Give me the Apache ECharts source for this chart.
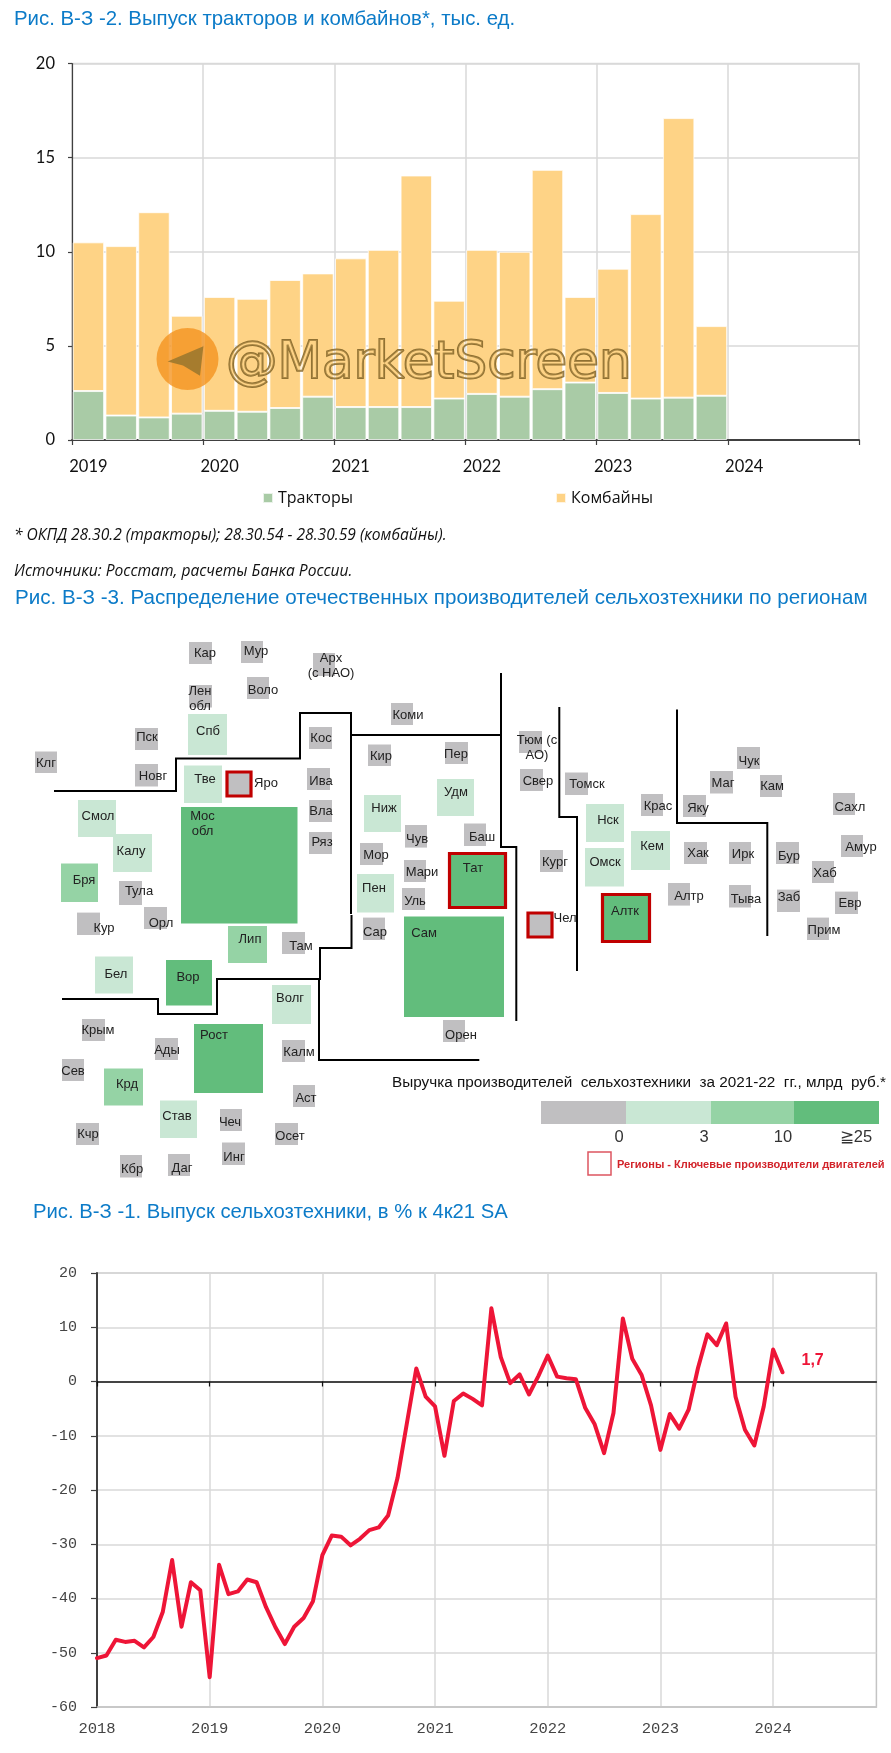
<!DOCTYPE html>
<html><head><meta charset="utf-8">
<style>html,body{margin:0;padding:0;background:#fff}#c{width:891px;height:1753px}</style>
<script src="https://cdn.jsdelivr.net/npm/echarts@6/dist/echarts.min.js"></script>
</head><body><div id="c"></div>
<script>
// ---- Chart 1: quarterly output, thousand units
const quarterLabels = ['2019','','','','2020','','','','2021','','','','2022','','','','2023','','','','2024','','',''];
const tractors = [2.6,1.3,1.2,1.4, 1.55,1.5,1.7,2.3, 1.75,1.75,1.75,2.2, 2.45,2.3,2.7,3.05, 2.5,2.2,2.25,2.35];
const combines = [7.9,9.0,10.9,5.2, 6.05,6.0,6.8,6.55, 7.9,8.35,12.3,5.2, 7.65,7.7,11.65,4.55, 6.6,9.8,14.85,3.7];

// ---- Chart 3: monthly output, % of 4Q21 SA
const monthYears = ['2018','2019','2020','2021','2022','2023','2024'];
const outputIndex = [
 -51.0,-50.5,-47.6,-48.0,-47.8,-49.0,-47.1,-42.5,-32.9,-45.2,-37.0,-38.5,
 -54.5,-33.8,-39.2,-38.7,-36.5,-37.0,-41.6,-45.3,-48.4,-45.2,-43.6,-40.5,
 -32.0,-28.4,-28.6,-30.2,-29.0,-27.4,-26.9,-24.7,-17.8,-7.7,2.4,-2.8,
 -4.6,-13.7,-3.6,-2.2,-3.2,-4.4,13.5,4.5,-0.3,1.3,-2.4,1.0,
 4.8,0.9,0.6,0.4,-4.9,-7.9,-13.2,-5.8,11.6,4.2,1.2,-4.4,
 -12.6,-6.0,-8.7,-5.2,2.5,8.7,6.7,10.7,-2.8,-8.9,-11.8,-4.6,
 5.9,1.7];

// ---- Map: regions and revenue tier (0 none, 1 <3..., 2, 3 >=25)
const regionNames = ['Кар','Мур','Арх\n(с НАО)','Воло','Лен\nобл','Пск','Кос','Коми','Кир','Клг','Новг','Ива','Вла','Ряз','Чув','Мор','Мари','Уль','Сар','Тула','Кур','Орл','Там','Крым','Ады','Калм','Сев','Аст','Чеч','Осет','Кчр','Инг','Кбр','Даг','Орен','Пер','Баш','Тюм (с\nАО)','Свер','Томск','Крас','Яку','Маг','Чук','Кам','Сахл','Амур','Хаб','Евр','Прим','Бур','Заб','Хак','Ирк','Алтр','Тыва','Кург','Яро','Чел','Спб','Тве','Смол','Калу','Ниж','Пен','Бел','Волг','Став','Удм','Нск','Омск','Кем','Бря','Лип','Крд','Мос\nобл','Вор','Рост','Сам','Тат','Алтк'];
const regionTiers = [0,0,0,0,0,0,0,0,0,0,0,0,0,0,0,0,0,0,0,0,0,0,0,0,0,0,0,0,0,0,0,0,0,0,0,0,0,0,0,0,0,0,0,0,0,0,0,0,0,0,0,0,0,0,0,0,0,0,0,1,1,1,1,1,1,1,1,1,1,1,1,1,2,2,2,3,3,3,3,3,3];
const keyEngineRegions = ['Яро','Чел','Тат','Алтк'];
// page layout of the tile map: x0,y0,x1,y1, text centre x,y
const tileLayout = [
[189,642,212,664,205,653],[241,641,263,663,256,651.5],[313,653,335,676,331,666],[247,677,269,699,263,690],[189,685,212,707.5,200,698.5],[135,728,158,750,147,737.5],[309,727,332,749,321,738],[391,703,413,725,408,715],[368,744.5,391,766,381,756.5],[35,751.5,57,773,46,763],[135,764,158,786.5,153,776],[307,768,330,790,321,781.5],[309,800,332,822,321,811],[309,832,332,854,322,842.5],[405,825,427,847.6,417,839],[360,843,383,865,376,855],[404,860,426,882,422,872.5],[402,888,425,910,415,901],[363,917.6,385,940,375,932],[119,881,142,905,139,891.5],[77,912.6,100,935,104,928.5],[144,907,167,929,161,923],[282,932,305,954,301,946],[82,1019,105,1041,98,1030],[155,1038,178,1060,167,1050],[282,1040,305,1062,299,1052],[62,1059,84,1081,73,1071],[293,1085,315,1107,306,1098.6],[220,1109,242,1131,230,1122],[275,1123,298,1145,290,1136],[76,1123,99,1145,88,1134],[222,1142.5,245,1165,234,1157],[120,1155,142,1177.5,132,1169],[168,1154,190,1176,182,1168],[443,1020,465,1042,461,1035.5],[445,742,468,764,456,754.6],[464,823.5,486,846,482,837.5],[519,731,542,753,537,747.5],[520,769,543,791,538,781],[565,772.5,588,795,587,784.6],[641,794,663,816,658,806],[683,795,706,817,698,808],[710,771,733,793.5,723,783],[737,747,760,769,749,761],[760,775,782,797,772,786.5],[833,793,855,815,850,807],[841,835,863,857,861,847],[812,861,834,883,825,873],[835,891.6,858,914,850,903.6],[807,917.6,829,940,824,930],[776,842,799,864,789,856.5],[777,889.6,800,912,789,897],[684,842,707,864,698,853.4],[729,842,751,864,743,854],[668,883,690,905.6,689,896],[729,885,751,907.5,746,899],[540,850,563,872,555,862],[227,772,251,796,266,783.4],[528,913,552,937,565,918.4],
[188,714,227,755,208,731],[184,765.5,222,803,205,779.5],[78,800,116,837,98,816.5],[113,834,152,872,131,851],[364,795,401,832,384,808],[357,874,394,912.6,374,888.5],[95,956.5,133,993.5,116,974.4],[272,985,311,1024,290,998.6],[160,1100.5,197,1138,177,1116.5],[437,779,474,816,456,792],[586,804,624,842,608,820],[585,848,624,886.5,605,862],[631,831,670,870,652,846.4],[61,863.5,98,902,84,880],[228,926,267,963,250,939.4],[104,1068.6,143,1105.6,127,1084.6],[181,807,297.5,923.5,202.5,824],[166,960,212,1005.5,188,977.5],[194,1024,263,1093,214,1035.5],[404,916.5,504,1017,424,933.6],[449.5,853.5,505.5,907.5,473,868],[602.5,894.5,649.5,941.5,625,911.4]
];
const borderLines = [
 [[54,791],[176,791],[176,758.5],[300,758.5],[300,713],[351,713],[351,914]],
 [[351.5,915],[351.5,948],[320,948],[320,979],[217,979],[217,1014],[158,1014],[158,999],[62,999]],
 [[319,979],[319,1060],[479.3,1060]],
 [[351,735],[501,735]],
 [[501,673],[501,847],[516.3,847],[516.3,1021]],
 [[559.3,707],[559.3,817],[577,817],[577,971]],
 [[677,709.5],[677,823],[767.3,823],[767.3,936]]
];
const tierColors = ['#C0BFC1','#C9E7D4','#95D3A5','#62BD7C'];
const revenueLegendTicks = ['0','3','10','≧25'];

const months = [];
monthYears.forEach(y => { for (let m = 0; m < 12; m++) months.push(m === 0 ? y : y + '-' + (m + 1)); });
const mapData = regionNames.map((n, i) => [...tileLayout[i], regionTiers[i], n]);

const blue = '#0C7BC8';
const sansTitle = (text, left, top, size) => ({text, left, top, padding: 0,
  textStyle: {color: blue, fontFamily: '"Liberation Sans", Arial', fontSize: size, fontWeight: 'normal'}});
const gridLine = {show: true, lineStyle: {color: '#D9D9D9', width: 1.5}};

const barFont = {fontFamily: 'Lato', fontSize: 16.5, color: '#111'};
const monoFont = {fontFamily: '"Liberation Mono"', fontSize: 15.5, color: '#444'};
const legendFont = {fontFamily: '"Open Sans"', fontSize: 16, color: '#111'};

const option = {
  animation: false,
  backgroundColor: '#fff',
  title: [
    sansTitle('Рис. В-З -2. Выпуск тракторов и комбайнов*, тыс. ед.', 14, 9, 20.4),
    sansTitle('Рис. В-З -3. Распределение отечественных производителей сельхозтехники по регионам', 15, 588, 20.6),
    sansTitle('Рис. В-З -1. Выпуск сельхозтехники, в % к 4к21 SA', 33, 1202, 20.3)
  ],
  legend: [
    {data: ['Тракторы'], left: 262, top: 490, itemWidth: 10, itemHeight: 10, icon: 'rect', textStyle: legendFont, itemGap: 0, padding: 0},
    {data: ['Комбайны'], left: 555, top: 490, itemWidth: 10, itemHeight: 10, icon: 'rect', textStyle: legendFont, itemGap: 0, padding: 0}
  ],
  grid: [
    {left: 72, top: 63.5, width: 787, height: 376.5, show: true, borderColor: '#D9D9D9', borderWidth: 1.5, containLabel: false},
    {left: 0, top: 590, width: 891, height: 610},
    {left: 97, top: 1273, width: 779.4, height: 434, show: true, borderColor: '#C4C4C4', borderWidth: 1.5}
  ],
  xAxis: [
    {gridIndex: 0, type: 'category', data: quarterLabels, boundaryGap: true,
     axisLine: {lineStyle: {color: '#404040', width: 2}},
     axisTick: {show: true, interval: 3, length: 5, lineStyle: {color: '#404040', width: 1.2}},
     splitLine: {...gridLine, interval: 3},
     axisLabel: {...barFont, interval: 3, margin: 18}},
    {gridIndex: 1, type: 'value', min: 0, max: 891, show: false},
    {gridIndex: 2, type: 'category', data: months, boundaryGap: false,
     axisLine: {onZero: false, lineStyle: {color: '#C4C4C4', width: 1.5}},
     axisTick: {show: false},
     splitLine: {...gridLine, interval: 11},
     axisLabel: {...monoFont, interval: 11, margin: 14, formatter: v => v}},
    {gridIndex: 2, type: 'category', data: months, boundaryGap: false, position: 'top',
     axisLine: {onZero: true, lineStyle: {color: '#111', width: 1.5}},
     axisTick: {show: true, interval: 11, inside: true, length: 5, lineStyle: {color: '#111', width: 1.2}},
     splitLine: {show: false}, axisLabel: {show: false}}
  ],
  yAxis: [
    {gridIndex: 0, type: 'value', min: 0, max: 20, interval: 5,
     axisLine: {show: true, lineStyle: {color: '#404040', width: 1.2}},
     axisTick: {show: true, length: 4, lineStyle: {color: '#404040', width: 1.2}},
     splitLine: gridLine,
     axisLabel: {...barFont, margin: 17}},
    {gridIndex: 1, type: 'value', min: 590, max: 1200, inverse: true, show: false},
    {gridIndex: 2, type: 'value', min: -60, max: 20, interval: 10,
     axisLine: {show: true, onZero: false, lineStyle: {color: '#404040', width: 2}},
     axisTick: {show: true, length: 6, lineStyle: {color: '#404040', width: 1.2}},
     splitLine: gridLine,
     axisLabel: {...monoFont, margin: 20, fontSize: 15}}
  ],
  series: [
    {name: 'Тракторы', type: 'bar', stack: 'q', xAxisIndex: 0, yAxisIndex: 0, data: tractors, barCategoryGap: '4%',
     itemStyle: {color: '#A9CBA6', borderColor: 'rgba(255,255,255,.75)', borderWidth: 1}},
    {name: 'Комбайны', type: 'bar', stack: 'q', xAxisIndex: 0, yAxisIndex: 0, data: combines, barCategoryGap: '4%',
     itemStyle: {color: '#FED386', borderColor: 'rgba(255,255,255,.75)', borderWidth: 1}},
    {type: 'custom', xAxisIndex: 1, yAxisIndex: 1, coordinateSystem: 'cartesian2d', data: mapData, z: 3, silent: true,
     encode: {x: [0, 2], y: [1, 3]},
     renderItem: (params, api) => {
       const d = mapData[params.dataIndex];
       const a = api.coord([d[0], d[1]]), b = api.coord([d[2], d[3]]), t = api.coord([d[4], d[5]]);
       const keyed = keyEngineRegions.includes(d[7]);
       return {type: 'group', children: [
         {type: 'rect', shape: {x: a[0], y: a[1], width: b[0] - a[0], height: b[1] - a[1]},
          style: {fill: tierColors[d[6]], stroke: keyed ? '#C00000' : null, lineWidth: keyed ? 3.2 : 0}},
         {type: 'text', x: t[0], y: t[1], z2: 5,
          style: {text: d[7], fill: '#222', font: '13px "Liberation Sans"', align: 'center', verticalAlign: 'middle', lineHeight: 15}}
       ]};
     }},
    ...borderLines.map(l => ({type: 'line', xAxisIndex: 1, yAxisIndex: 1, data: l, showSymbol: false, silent: true, z: 4,
      lineStyle: {color: '#000', width: 2, join: 'miter'}})),
    {name: 'Индекс', type: 'line', xAxisIndex: 2, yAxisIndex: 2, data: outputIndex, showSymbol: false, z: 5,
     lineStyle: {color: '#EE1537', width: 4, join: 'round', cap: 'round'},
     endLabel: {show: true, offset: [11, -12], formatter: p => String(p.value).replace('.', ','),
       color: '#EE1537', fontFamily: '"Liberation Sans"', fontWeight: 'bold', fontSize: 16}}
  ],
  graphic: [
    // footnotes
    {type: 'text', left: 14, top: 528, style: {text: '* ОКПД 28.30.2 (тракторы); 28.30.54 - 28.30.59 (комбайны).', fill: '#111', font: 'italic 15.6px "Open Sans"'}},
    {type: 'text', left: 14, top: 564, style: {text: 'Источники: Росстат, расчеты Банка России.', fill: '#111', font: 'italic 15.6px "Open Sans"'}},
    // watermark
    {type: 'circle', shape: {cx: 187.5, cy: 359, r: 31}, style: {fill: 'rgba(243,146,30,.78)'}, z: 20},
    {type: 'polygon', shape: {points: [[167.6,361.6],[203.4,346.3],[200,375.8],[183,365.5]]}, style: {fill: '#A67C2E'}, z: 21},
    {type: 'text', x: 226, y: 339, z: 20, style: {text: '@MarketScreen', font: '51.5px "DejaVu Sans"', fill: 'rgba(255,210,130,.25)', stroke: 'rgba(125,95,35,.85)', lineWidth: 2}},
    // map legend
    {type: 'text', left: 392, top: 1075, style: {text: 'Выручка производителей  сельхозтехники  за 2021-22  гг., млрд  руб.*', fill: '#111', font: '15.3px "Liberation Sans"'}},
    {type: 'rect', shape: {x: 541, y: 1101, width: 85, height: 23}, style: {fill: tierColors[0]}},
    {type: 'rect', shape: {x: 626, y: 1101, width: 85, height: 23}, style: {fill: tierColors[1]}},
    {type: 'rect', shape: {x: 711, y: 1101, width: 83, height: 23}, style: {fill: tierColors[2]}},
    {type: 'rect', shape: {x: 794, y: 1101, width: 85, height: 23}, style: {fill: tierColors[3]}},
    ...revenueLegendTicks.map((t, i) => ({type: 'text', x: [619, 704, 783, 856][i], y: 1137,
      style: {text: t, align: 'center', verticalAlign: 'middle', fill: '#333', font: '16.5px "Liberation Sans"'}})),
    {type: 'rect', shape: {x: 588, y: 1152, width: 23, height: 23}, style: {fill: 'none', stroke: '#DD5560', lineWidth: 1.5}},
    {type: 'text', left: 617, top: 1159, style: {text: 'Регионы - Ключевые производители двигателей', fill: '#D2232A', font: 'bold 11px "Liberation Sans"'}}
  ]
};
const chart = echarts.init(document.getElementById('c'), null, {renderer: 'canvas', width: 891, height: 1753});
chart.setOption(option);
</script></body></html>
